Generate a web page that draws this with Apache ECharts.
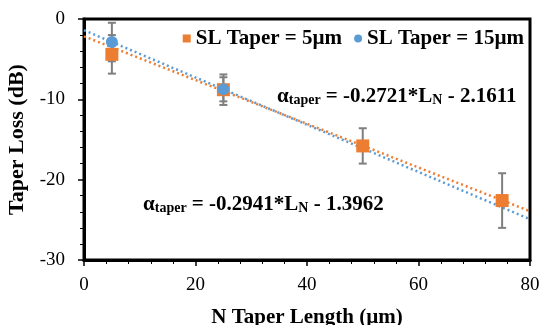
<!DOCTYPE html>
<html><head><meta charset="utf-8">
<script src="https://cdn.jsdelivr.net/npm/echarts@6/dist/echarts.min.js"></script>
<style>html,body{margin:0;padding:0;background:#fff}#c{width:541px;height:325px}</style>
</head><body><div id="c"></div>
<script>
// Data
const xOrange = [5, 25, 50, 75];
const yOrange = [-4.4, -8.8, -15.8, -22.6];
const errOrange = [2.4, 1.9, 2.2, 3.4];
const xBlue = [5, 25];
const yBlue = [-2.87, -8.75];
const errBlue = [2.4, 1.5];
// Trendline coefficients (as shown in the chart)
const fitOrange = [-0.2721, -2.1611];
const fitBlue = [-0.2941, -1.3962];
const fitRange = [0, 80];
const seriesNames = ['SL Taper = 5\u00b5m', 'SL Taper = 15\u00b5m'];

const ORANGE = '#ED7D31', BLUE = '#5B9BD5', GREY = '#7F7F7F';
const FONT = 'Liberation Serif';

const pts = (xs, ys) => xs.map((x, i) => [x, ys[i]]);
const fitPts = f => fitRange.map(x => [x, f[0] * x + f[1]]);
const errData = (xs, ys, es) => xs.map((x, i) => [x, ys[i] - es[i], ys[i] + es[i]]);

function errRender(params, api) {
  const x = api.value(0), lo = api.value(1), hi = api.value(2);
  const pLo = api.coord([x, lo]), pHi = api.coord([x, hi]);
  const w = 4;
  const st = { stroke: GREY, lineWidth: 2 };
  return { type: 'group', children: [
    { type: 'line', shape: { x1: pLo[0], y1: pLo[1], x2: pHi[0], y2: pHi[1] }, style: st },
    { type: 'line', shape: { x1: pLo[0] - w, y1: pLo[1], x2: pLo[0] + w, y2: pLo[1] }, style: st },
    { type: 'line', shape: { x1: pHi[0] - w, y1: pHi[1], x2: pHi[0] + w, y2: pHi[1] }, style: st }
  ]};
}

const chart = echarts.init(document.getElementById('c'), null, { renderer: 'canvas' });
const axisCommon = {
  axisLine: { show: true, onZero: false, lineStyle: { color: '#000', width: 3 } },
  axisTick: { show: true, inside: false, length: 6, lineStyle: { color: '#000', width: 1.5 } },
  minorTick: { show: true, splitNumber: 5, length: 4, lineStyle: { color: '#000', width: 1 } },
  splitLine: { show: false },
  axisLabel: { color: '#000', fontFamily: FONT, fontSize: 19 },
  nameTextStyle: { color: '#000', fontFamily: FONT, fontSize: 21, fontWeight: 'bold' }
};
const rich = {
  a: { fontFamily: FONT, fontSize: 21, fontWeight: 'bold', color: '#000', lineHeight: 22, verticalAlign: 'middle' },
  s: { fontFamily: FONT, fontSize: 14, fontWeight: 'bold', color: '#000', lineHeight: 22, verticalAlign: 'bottom' }
};
chart.setOption({
  animation: false,
  backgroundColor: '#fff',
  grid: { left: 84, right: 11, top: 19, bottom: 65, containLabel: false, outerBoundsMode: 'none',
    show: true, borderColor: '#000', borderWidth: 3, backgroundColor: 'transparent' },
  xAxis: Object.assign({}, axisCommon, {
    type: 'value', min: 0, max: 80, interval: 20,
    name: 'N Taper Length (\u00b5m)', nameLocation: 'middle', nameGap: 47,
    axisLabel: Object.assign({}, axisCommon.axisLabel, { margin: 16 })
  }),
  yAxis: Object.assign({}, axisCommon, {
    type: 'value', min: -30, max: 0, interval: 10,
    name: 'Taper Loss (dB)', nameLocation: 'middle', nameGap: 52,
    nameTextStyle: Object.assign({}, axisCommon.nameTextStyle, { fontSize: 22 }),
    axisLabel: Object.assign({}, axisCommon.axisLabel, { margin: 19 })
  }),
  legend: {
    top: 23, right: 12, itemGap: 12, itemWidth: 8, itemHeight: 8,
    textStyle: { fontFamily: FONT, fontSize: 21, fontWeight: 'bold', color: '#000' },
    data: [{ name: seriesNames[0], icon: 'rect' }, { name: seriesNames[1], icon: 'circle' }]
  },
  graphic: [
    { type: 'text', left: 277, top: 86, style: { rich: rich, text: '{a|\u03b1}{s|taper}{a| = -0.2721*L}{s|N}{a| - 2.1611}' } },
    { type: 'text', left: 143, top: 194, style: { rich: rich, text: '{a|\u03b1}{s|taper}{a| = -0.2941*L}{s|N}{a| - 1.3962}' } }
  ],
  series: [
    { type: 'line', data: fitPts(fitOrange), showSymbol: false, silent: true,
      lineStyle: { color: ORANGE, width: 2.5, type: [2, 3] }, z: 2 },
    { type: 'line', data: fitPts(fitBlue), showSymbol: false, silent: true,
      lineStyle: { color: BLUE, width: 2.5, type: [2, 3] }, z: 2 },
    { type: 'custom', renderItem: errRender, data: errData(xOrange, yOrange, errOrange), z: 3 },
    { type: 'custom', renderItem: errRender, data: errData(xBlue, yBlue, errBlue), z: 3 },
    { name: seriesNames[0], type: 'scatter', data: pts(xOrange, yOrange), symbol: 'rect', symbolSize: 13,
      itemStyle: { color: ORANGE, opacity: 1 }, z: 4 },
    { name: seriesNames[1], type: 'scatter', data: pts(xBlue, yBlue), symbol: 'circle', symbolSize: 12,
      itemStyle: { color: BLUE, opacity: 1 }, z: 5 }
  ]
});
</script></body></html>
